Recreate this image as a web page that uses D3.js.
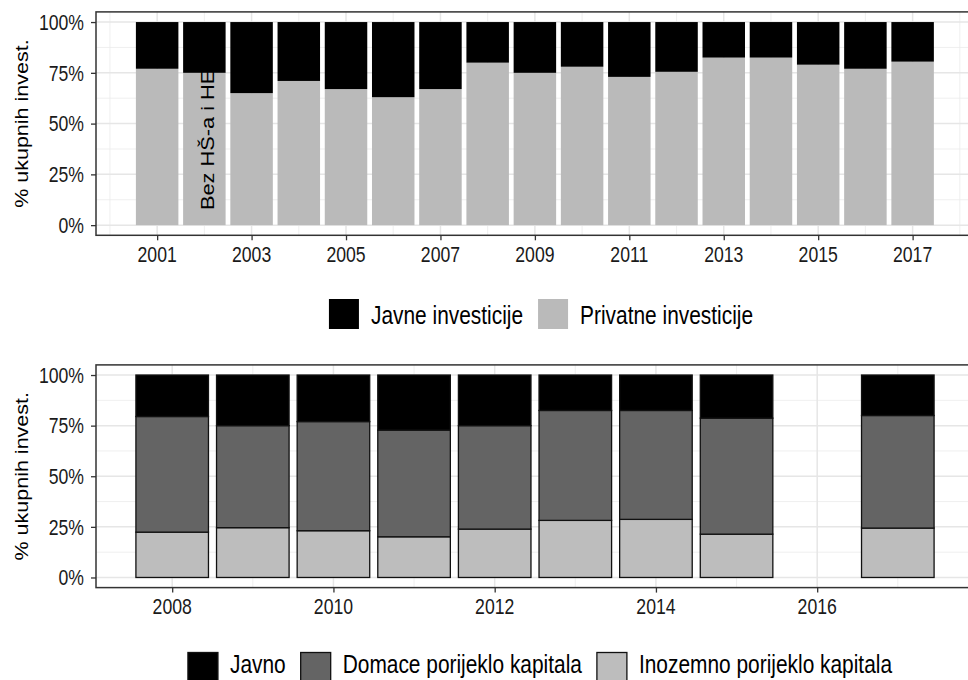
<!DOCTYPE html>
<html><head><meta charset="utf-8">
<script src="https://cdn.jsdelivr.net/npm/d3@7"></script>
<style>html,body{margin:0;padding:0;background:#fff;}svg{display:block;}</style>
</head><body>
<svg id="chart" width="968" height="680"></svg>
<script>
// ---------- DATA ----------
const topYears = [2001,2002,2003,2004,2005,2006,2007,2008,2009,2010,2011,2012,2013,2014,2015,2016,2017];
const topPrivate = [77,75,65,71,67,63,67,80,75,78,73,75.5,82.5,82.5,79,77,80.5];
const topPublic  = [23,25,35,29,33,37,33,20,25,22,27,24.5,17.5,17.5,21,23,19.5];
const topXTicks = [2001,2003,2005,2007,2009,2011,2013,2015,2017];
const topLegend = ["Javne investicije","Privatne investicije"];

const botYears = [2008,2009,2010,2011,2012,2013,2014,2015,2017];
const botForeign  = [22.4,24.6,23.1,20.1,23.9,28.2,28.7,21.4,24.4];
const botDomestic = [57.1,50.4,53.9,52.7,51.1,54.3,53.8,57.3,55.6];
const botPublic   = [20.5,25,23,27.2,25,17.5,17.5,21.3,20];
const botXTicks = [2008,2010,2012,2014,2016];
const botLegend = ["Javno","Domace porijeklo kapitala","Inozemno porijeklo kapitala"];

const yTicks = [0,25,50,75,100];
const yTickLabels = ["0%","25%","50%","75%","100%"];
const yTitle = "% ukupnih invest.";
const annotation = "Bez HŠ-a i HE";

// ---------- STYLE ----------
const FONT = "'Liberation Sans', Arial, sans-serif";
const SQ = 0.82; // horizontal squeeze of the reference
const svg = d3.select("#chart");

function sqText(g, x, y, txt, opts) {
  const gg = g.append("g").attr("transform", `translate(${x},${y}) scale(${SQ},1)` + (opts.rotate ? ` rotate(${opts.rotate})` : ""));
  const t = gg.append("text").text(txt)
    .attr("font-family", FONT).attr("font-size", opts.size)
    .attr("fill", opts.fill || "#000")
    .attr("text-anchor", opts.anchor || "start");
  if (opts.dy) t.attr("dy", opts.dy);
  return t;
}

function panel(cfg) {
  const g = svg.append("g");
  const x = d3.scaleLinear().domain(cfg.xDomain).range([96, 974]);
  const y = d3.scaleLinear().domain([-5, 105]).range([cfg.bottom, cfg.top]);
  const bw = x(cfg.xDomain[0] + 0.9) - x(cfg.xDomain[0]);

  // grid
  g.selectAll(".gminx").data(cfg.minorX).join("line")
    .attr("x1", d => x(d)).attr("x2", d => x(d)).attr("y1", cfg.top).attr("y2", cfg.bottom)
    .attr("stroke", "#ebebeb").attr("stroke-width", 0.8);
  g.selectAll(".gminy").data([12.5,37.5,62.5,87.5]).join("line")
    .attr("x1", 96).attr("x2", 974).attr("y1", d => y(d)).attr("y2", d => y(d))
    .attr("stroke", "#ebebeb").attr("stroke-width", 0.8);
  g.selectAll(".gmajx").data(cfg.xTicks).join("line")
    .attr("x1", d => x(d)).attr("x2", d => x(d)).attr("y1", cfg.top).attr("y2", cfg.bottom)
    .attr("stroke", "#e6e6e6").attr("stroke-width", 1.5);
  g.selectAll(".gmajy").data(yTicks).join("line")
    .attr("x1", 96).attr("x2", 974).attr("y1", d => y(d)).attr("y2", d => y(d))
    .attr("stroke", "#e6e6e6").attr("stroke-width", 1.5);

  // bars
  const stack = d3.stack().keys(cfg.keys);
  const series = stack(cfg.rows);
  series.forEach((s, i) => {
    g.selectAll(null).data(s).join("rect")
      .attr("x", d => x(d.data.year) - bw / 2)
      .attr("width", bw)
      .attr("y", d => y(d[1]))
      .attr("height", d => y(d[0]) - y(d[1]))
      .attr("fill", cfg.colors[i])
      .attr("stroke", cfg.outline ? "#111" : "none")
      .attr("stroke-width", cfg.outline ? 1.3 : 0);
  });

  // border
  g.append("rect").attr("x", 96).attr("y", cfg.top).attr("width", 974 - 96).attr("height", cfg.bottom - cfg.top)
    .attr("fill", "none").attr("stroke", "#333").attr("stroke-width", 1.5);

  // axes
  const xa = g.append("g").attr("transform", `translate(0,${cfg.bottom})`)
    .call(d3.axisBottom(x).tickValues(cfg.xTicks).tickSize(5).tickFormat(""));
  const ya = g.append("g").attr("transform", `translate(96,0)`)
    .call(d3.axisLeft(y).tickValues(yTicks).tickSize(5).tickFormat(""));
  [xa, ya].forEach(a => { a.select(".domain").remove(); a.selectAll("line").attr("stroke", "#333").attr("stroke-width", 1.3); });

  cfg.xTicks.forEach(t => sqText(g, x(t), cfg.bottom + 26.5, String(t), {size: 21.5, anchor: "middle", fill: "#1a1a1a"}));
  yTicks.forEach((t, i) => sqText(g, 84, y(t), yTickLabels[i], {size: 21.5, anchor: "end", fill: "#1a1a1a", dy: "0.36em"}));

  sqText(g, 22, (cfg.top + cfg.bottom) / 2, yTitle, {size: 21.5, anchor: "middle", rotate: -90, dy: "0.36em"});
  return {g, x, y};
}

// ---------- TOP PANEL ----------
const topRows = topYears.map((yr, i) => ({year: yr, priv: topPrivate[i], pub: topPublic[i]}));
const P1 = panel({
  xDomain: [1999.705, 2018.3], top: 11.9, bottom: 235.3,
  xTicks: topXTicks, minorX: [2000,2002,2004,2006,2008,2010,2012,2014,2016,2018],
  keys: ["priv","pub"], rows: topRows, colors: ["#bababa","#000"], outline: false
});
sqText(P1.g, P1.x(2002) + 3, P1.y(7.4), annotation, {size: 21.8, anchor: "start", rotate: -90, dy: "0.36em"});

// ---------- BOTTOM PANEL ----------
const botRows = botYears.map((yr, i) => ({year: yr, fore: botForeign[i], dom: botDomestic[i], pub: botPublic[i]}));
const P2 = panel({
  xDomain: [2007.055, 2017.945], top: 364.9, bottom: 587.6,
  xTicks: botXTicks, minorX: [2009,2011,2013,2015,2017],
  keys: ["fore","dom","pub"], rows: botRows, colors: ["#bdbdbd","#646464","#000"], outline: true
});

// ---------- LEGENDS ----------
function legend(labels, colors, outline, keyTop, centerX, baseOff) {
  const g = svg.append("g");
  const items = labels.map((l, i) => {
    const t = sqText(g, 0, 0, l, {size: 25.5, anchor: "start"});
    const w = t.node().getComputedTextLength() * SQ;
    t.node().parentNode.remove();
    return {l, w, c: colors[i]};
  });
  const key = 30, gapKT = 12, gapTK = 15;
  const total = d3.sum(items, d => key + gapKT + d.w) + gapTK * (items.length - 1);
  let cx = centerX - total / 2;
  items.forEach(d => {
    g.append("rect").attr("x", cx).attr("y", keyTop).attr("width", key).attr("height", key)
      .attr("fill", d.c).attr("stroke", outline ? "#111" : "none").attr("stroke-width", outline ? 1.3 : 0);
    sqText(g, cx + key + gapKT, keyTop + baseOff, d.l, {size: 25.5, anchor: "start"});
    cx += key + gapKT + d.w + gapTK;
  });
}
legend(topLegend, ["#000","#bababa"], false, 299, 541, 25);
legend(botLegend, ["#000","#646464","#bdbdbd"], true, 652.5, 540, 20.5);
</script>
</body></html>
